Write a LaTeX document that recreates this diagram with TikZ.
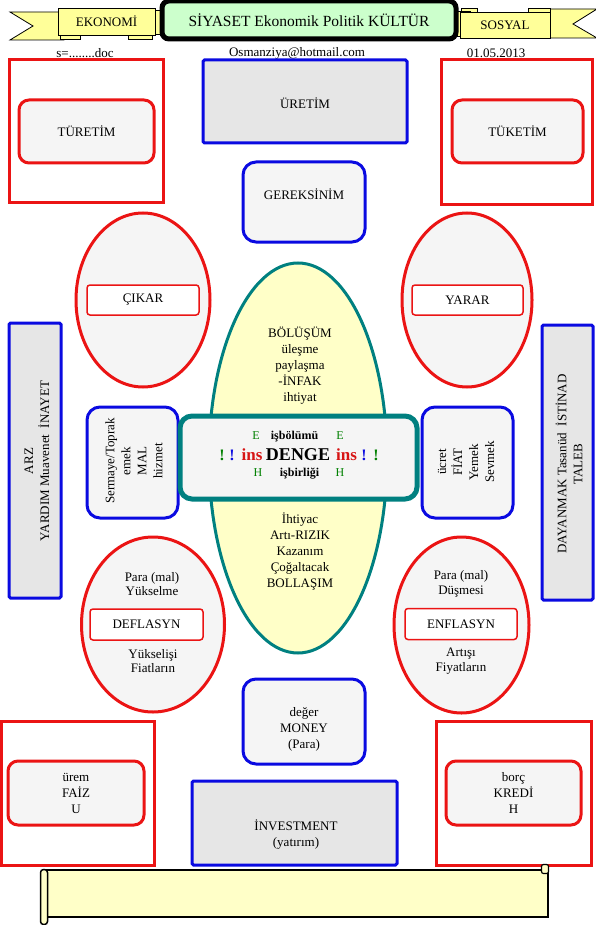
\documentclass[tikz,border=0pt]{standalone}
\usepackage{fontspec}
\setmainfont{Liberation Serif}
\usetikzlibrary{shapes.geometric}
\definecolor{myred}{RGB}{235,20,20}
\definecolor{myblue}{RGB}{10,10,225}
\definecolor{tealc}{RGB}{0,128,128}
\definecolor{grayA}{RGB}{230,230,230}
\definecolor{grayB}{RGB}{245,245,245}
\definecolor{paleY}{RGB}{255,255,200}
\definecolor{ribY}{RGB}{255,255,153}
\definecolor{mint}{RGB}{204,255,204}
\definecolor{dgreen}{RGB}{0,128,0}
\definecolor{insred}{RGB}{215,20,20}
\begin{document}
\begin{tikzpicture}[x=1pt,y=-1pt,
  every node/.style={font=\fontsize{13}{16}\selectfont, inner sep=0pt, align=center},
  sz/.style 2 args={minimum width=#1pt, minimum height=#2pt},
  redouter/.style={draw=myred, line width=3pt, fill=white},
  redinner/.style={draw=myred, line width=3pt, fill=grayB, rounded corners=10pt},
  bluebox/.style={draw=myblue, line width=3pt, fill=grayA, rounded corners=1.5pt},
  blueround/.style={draw=myblue, line width=3pt, fill=grayB, rounded corners=13pt},
  redoval/.style={ellipse, draw=myred, line width=3pt, fill=grayB},
  ovallabel/.style={draw=myred, line width=1.5pt, fill=white, rounded corners=3pt},
  ribbonpart/.style={draw=black, line width=0.8pt, fill=ribY},
  smalltext/.style={font=\fontsize{13}{14}\selectfont},
  ovaltext/.style={font=\fontsize{13}{14.5}\selectfont},
  dengeE/.style={anchor=base, font=\fontsize{12}{14}\selectfont, text=dgreen},
  dengeB/.style={anchor=base, font=\fontsize{12}{14}\selectfont\bfseries},
  bang/.style={anchor=base, font=\fontsize{16}{18}\selectfont\bfseries},
  insstyle/.style={anchor=base, font=\fontsize{17}{19}\selectfont\bfseries, text=insred}]
\useasboundingbox (0,0) rectangle (595,925);

% ---------- ribbon banner ----------
\draw[ribbonpart] (10,12) -- (64,12) -- (64,40) -- (10,40) -- (33,26) -- cycle;
\draw[ribbonpart] (60,34) rectangle (80,39);
\draw[ribbonpart] (128,34) rectangle (152,39);
\draw[ribbonpart] (150,10) rectangle (172,34);
\draw[ribbonpart] (597,9) -- (546,9) -- (546,38) -- (597,38) -- (573,24) -- cycle;
\draw[ribbonpart] (461,8) rectangle (477,13);
\draw[ribbonpart] (528,8) rectangle (550,13);
\draw[ribbonpart] (448,11) rectangle (470,36);
\node[ribbonpart, sz={97}{27}] (eko) at (106.5,21.5) {EKONOMİ};
\node[ribbonpart, sz={90}{26}] (sos) at (505,25) {SOSYAL};
\node[draw=black, line width=5pt, fill=mint, rounded corners=7pt, sz={294}{38}] (title) at (309,20)
  {\fontsize{15.5}{17}\selectfont SİYASET Ekonomik Politik KÜLTÜR};

% ---------- header line ----------
\node[smalltext] (doc) at (85,53) {s=........doc};
\node[smalltext] (mail) at (297,53) {Osmanziya@hotmail.com};
\node[smalltext] (date) at (496,53) {01.05.2013};

% ---------- top row ----------
\node[redouter, sz={154}{143}] (tlout) at (86,131.5) {};
\node[redinner, sz={135}{63}] (turetim) at (86.5,131.5) {TÜRETİM};
\node[bluebox, sz={204}{83}] (uretim) at (305,101.5) {};
\node (uretimtxt) at (305,103) {ÜRETİM};
\node[redouter, sz={151}{145}] (trout) at (516.5,132.5) {};
\node[redinner, sz={131}{63}] (tuketim) at (517.5,131.5) {TÜKETİM};
\node[blueround, sz={122}{80}] (gerek) at (304,202) {};
\node (gerektxt) at (304,194) {GEREKSİNİM};

% ---------- upper ovals ----------
\node[redoval, sz={134}{174}] (cikaroval) at (143,300) {};
\node[ovallabel, sz={112}{30}] (cikar) at (143,300) {ÇIKAR};
\node[redoval, sz={130}{174}] (yararoval) at (467,300) {};
\node[ovallabel, sz={111}{30}] (yarar) at (467.5,300) {YARAR};

% ---------- central oval ----------
\node[ellipse, draw=tealc, line width=3pt, fill=paleY, sz={178}{390}] (central) at (298,458) {};
\node (bolusum) at (300,366) {BÖLÜŞÜM\\üleşme\\paylaşma\\-İNFAK\\ihtiyat};
\node (ihtiyac) at (300,552) {İhtiyac\\Artı-RIZIK\\Kazanım\\Çoğaltacak\\BOLLAŞIM};

% ---------- side tall boxes ----------
\node[bluebox, sz={52}{275}] (arzbox) at (35,460.5) {};
\node[rotate=90] (arz) at (37,461) {ARZ\\YARDIM Muavenet\ \ İNAYET};
\node[bluebox, sz={51}{275}] (talebbox) at (567.5,462.5) {};
\node[rotate=90] (taleb) at (569,464) {DAYANMAK Tasanüd\ \ İSTİNAD\\TALEB};

% ---------- small side boxes ----------
\node[blueround, sz={91}{111}] (malbox) at (132.5,462.5) {};
\node[rotate=90] (mal) at (134,461) {Sermaye/Toprak\\emek\\MAL\\hizmet};
\node[blueround, sz={91}{111}] (fiatbox) at (467.5,462.5) {};
\node[rotate=90] (fiat) at (466,462) {ücret\\FİAT\\Yemek\\Sevmek};

% ---------- DENGE box ----------
\node[draw=tealc, line width=5pt, fill=grayB, rounded corners=12pt, sz={237}{83}] (denge) at (298.5,457.5) {};
\node[dengeE] (e1) at (256,439) {E};
\node[dengeB] (isbolumu) at (294.5,439) {işbölümü};
\node[dengeE] (e2) at (340,439) {E};
\node[bang, text=dgreen] (b1) at (222,460) {!};
\node[bang, text=myblue] (b2) at (232,460) {!};
\node[insstyle] (ins1) at (252,460) {ins};
\node[anchor=base, font=\fontsize{18}{20}\selectfont\bfseries] (dengetxt) at (298,460) {DENGE};
\node[insstyle] (ins2) at (346.5,460) {ins};
\node[bang, text=myblue] (b3) at (364,460) {!};
\node[bang, text=dgreen] (b4) at (376,460) {!};
\node[dengeE] (h1) at (258,476) {H};
\node[dengeB] (isbirligi) at (299.5,476) {işbirliği};
\node[dengeE] (h2) at (340,476) {H};

% ---------- lower ovals ----------
\node[redoval, sz={143}{175}] (defoval) at (153,624.5) {};
\node[ovallabel, sz={113}{31}] (deflasyn) at (146.5,624.5) {DEFLASYN};
\node[ovaltext] (defup) at (152,584) {Para (mal)\\Yükselme};
\node[ovaltext] (defdown) at (153,661) {Yükselişi\\Fiatların};
\node[redoval, sz={135}{176}] (enfoval) at (461.5,625) {};
\node[ovallabel, sz={112}{31}] (enflasyn) at (461,624) {ENFLASYN};
\node[ovaltext] (enfup) at (461,584) {Para (mal)\\Düşmesi};
\node[ovaltext] (enfdown) at (461,661) {Artışı\\Fiyatların};

% ---------- money ----------
\node[blueround, sz={122}{85}] (moneybox) at (304,721.5) {};
\node (money) at (304,729) {değer\\MONEY\\(Para)};

% ---------- bottom row ----------
\node[redouter, sz={153}{144}] (blout) at (77.5,793) {};
\node[redinner, sz={136}{64}] (faiz) at (76,793) {ürem\\FAİZ\\U};
\node[redouter, sz={155}{144}] (brout) at (513.5,793) {};
\node[redinner, sz={135}{64}] (kredi) at (513.5,793) {borç\\KREDİ\\H};
\node[bluebox, sz={205}{84}] (investbox) at (294.5,823) {};
\node (invest) at (296,835) {İNVESTMENT\\(yatırım)};

% ---------- scroll ----------
\node[draw=black, line width=1.5pt, fill=paleY, sz={502}{47}] (scroll) at (297,893.5) {};
\node[draw=black, line width=1.5pt, fill=paleY, rounded corners=3pt, sz={7}{55}] (rollL) at (44,897) {};
\node[draw=black, line width=1.2pt, fill=paleY, rounded corners=2pt, sz={7}{9}] (rollR) at (545,869) {};
\end{tikzpicture}
\end{document}
